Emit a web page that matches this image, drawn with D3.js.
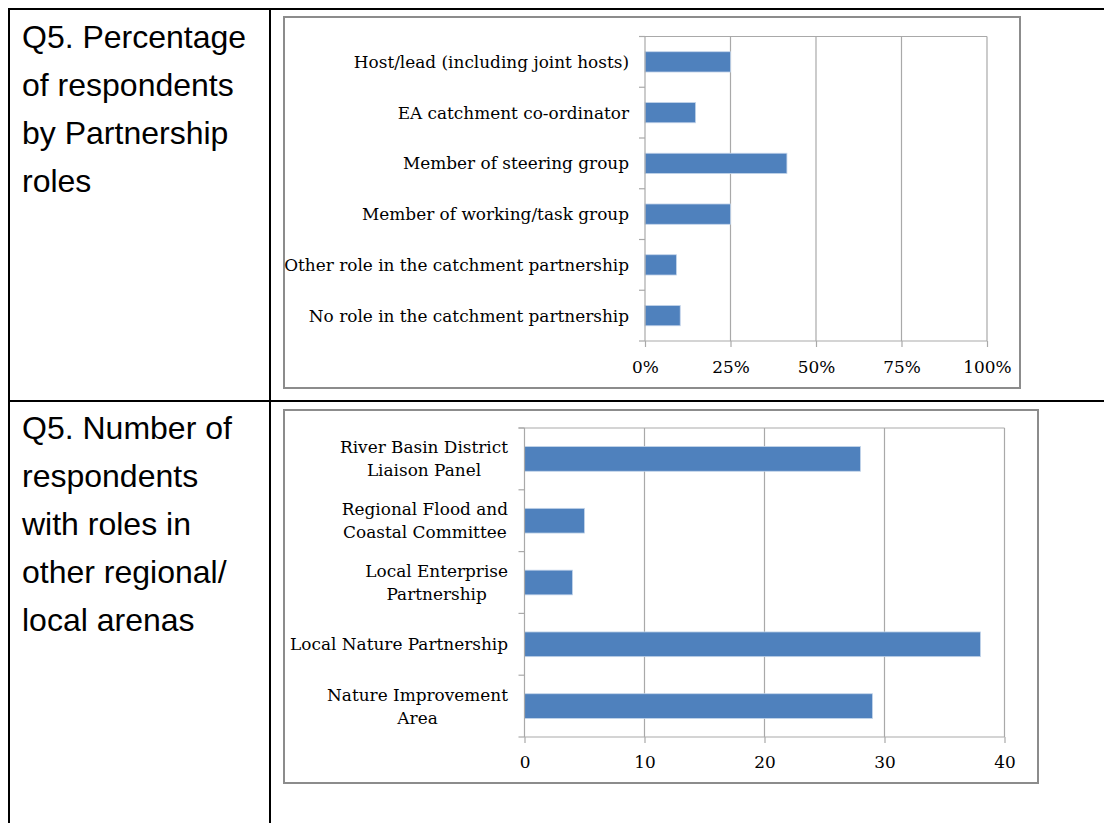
<!DOCTYPE html>
<html><head><meta charset="utf-8">
<script src="https://cdn.jsdelivr.net/npm/d3@7"></script>
<style>html,body{margin:0;padding:0;background:#fff;}svg{display:block;}</style>
</head><body>
<svg id="c" width="1104" height="823"></svg>
<script>
// ---- data ----
const roleCategories = ["Host/lead (including joint hosts)", "EA catchment co-ordinator", "Member of steering group", "Member of working/task group", "Other role in the catchment partnership", "No role in the catchment partnership"];
const roleValues = [25, 14.8, 41.5, 25, 9.2, 10.3];
const roleTicks = [0, 25, 50, 75, 100];
const roleTickLabels = ["0%", "25%", "50%", "75%", "100%"];

const arenaCategories = [["River Basin District", "Liaison Panel"], ["Regional Flood and", "Coastal Committee"], ["Local Enterprise", "Partnership"], ["Local Nature Partnership"], ["Nature Improvement", "Area"]];
const arenaValues = [28, 5, 4, 38, 29];
const arenaTicks = [0, 10, 20, 30, 40];
const arenaTickLabels = ["0", "10", "20", "30", "40"];

const heading1 = ["Q5. Percentage", "of respondents", "by Partnership", "roles"];
const heading2 = ["Q5. Number of", "respondents", "with roles in", "other regional/", "local arenas"];

// ---- drawing ----
const svg = d3.select("#c");
const serif = "'DejaVu Serif', 'Liberation Serif', serif";
const sans = "'Liberation Sans', Arial, sans-serif";
const gridCol = "#a9a9a9";
const barCol = "#4f81bd";

// table lines
const T = svg.append("g").attr("stroke", "#000").attr("stroke-width", 2);
T.append("line").attr("x1", 9).attr("x2", 1104).attr("y1", 9).attr("y2", 9);
T.append("line").attr("x1", 9).attr("x2", 1104).attr("y1", 401).attr("y2", 401);
T.append("line").attr("x1", 9).attr("x2", 9).attr("y1", 8).attr("y2", 823);
T.append("line").attr("x1", 270).attr("x2", 270).attr("y1", 8).attr("y2", 823);

function heading(lines, y0) {
  const g = svg.append("g").attr("font-family", sans).attr("font-size", 32).attr("fill", "#000");
  g.selectAll("text").data(lines).join("text")
    .attr("x", 22).attr("y", (d, i) => y0 + i * 48).text(d => d);
}
heading(heading1, 48);
heading(heading2, 439);

function chart(opts) {
  const g = svg.append("g");
  g.append("rect").attr("x", opts.frame[0]).attr("y", opts.frame[1])
    .attr("width", opts.frame[2] - opts.frame[0]).attr("height", opts.frame[3] - opts.frame[1])
    .attr("fill", "#fff").attr("stroke", "#8c8c8c").attr("stroke-width", 2);
  const x = d3.scaleLinear().domain(opts.domain).range([opts.x0, opts.x1]);
  const y = d3.scaleBand().domain(d3.range(opts.cats.length)).range([opts.y0, opts.y1])
    .paddingInner(0.6).paddingOuter(0.3);
  const step = y.step();
  g.selectAll("line.grid").data(opts.ticks.slice(1)).join("line").attr("class", "grid")
    .attr("x1", d => x(d)).attr("x2", d => x(d)).attr("y1", opts.y0).attr("y2", opts.y1)
    .attr("stroke", gridCol).attr("stroke-width", 1.2);
  g.append("line").attr("x1", opts.x0 - 6).attr("x2", x(opts.domain[1])).attr("y1", opts.y0).attr("y2", opts.y0)
    .attr("stroke", gridCol).attr("stroke-width", 1.2);
  g.selectAll("rect.bar").data(opts.vals).join("rect").attr("class", "bar")
    .attr("x", x(0)).attr("y", (d, i) => y(i)).attr("width", d => x(d) - x(0)).attr("height", y.bandwidth())
    .attr("fill", barCol).attr("stroke", "#c4d5ea").attr("stroke-width", 0.8);
  g.append("line").attr("x1", x(0)).attr("x2", x(0)).attr("y1", opts.y0).attr("y2", opts.y1)
    .attr("stroke", gridCol).attr("stroke-width", 1.2);
  g.selectAll("line.ctick").data(d3.range(opts.cats.length + 1)).join("line").attr("class", "ctick")
    .attr("x1", x(0) - 6).attr("x2", x(0)).attr("y1", i => opts.y0 + i * step).attr("y2", i => opts.y0 + i * step)
    .attr("stroke", gridCol).attr("stroke-width", 1.2);
  const axis = d3.axisBottom(x).tickValues(opts.ticks).tickSize(6)
    .tickFormat((d, i) => opts.tickLabels[i]);
  const ag = g.append("g").attr("transform", `translate(0,${opts.y1})`).call(axis);
  ag.select(".domain").attr("stroke", gridCol).attr("stroke-width", 1.2)
    .attr("d", `M${x(0)},0H${x(opts.domain[1])}`);
  ag.selectAll(".tick line").attr("stroke", gridCol).attr("stroke-width", 1.2);
  ag.selectAll(".tick text").attr("font-family", serif).attr("font-size", opts.fs).attr("fill", "#000")
    .attr("y", opts.tickY).attr("dy", "0.32em");
  // category labels: block right-aligned, lines centred within the block
  const lg = g.append("g").attr("font-family", serif).attr("font-size", opts.fs).attr("fill", "#000");
  opts.cats.forEach((c, i) => {
    const lines = Array.isArray(c) ? c : [c];
    const cy = y(i) + y.bandwidth() / 2;
    const t = lg.append("text");
    const spans = lines.map((ln, j) => t.append("tspan")
        .attr("y", cy + (j - (lines.length - 1) / 2) * opts.lh).attr("dy", "0.35em").text(ln));
    const w = d3.max(spans, s => s.node().getComputedTextLength());
    spans.forEach(s => s.attr("x", opts.labelX - w / 2).attr("text-anchor", "middle"));
  });
}

chart({frame: [284, 17, 1020, 388], domain: [0, 100], x0: 645, x1: 987, y0: 36.5, y1: 341,
  cats: roleCategories, vals: roleValues, ticks: roleTicks, tickLabels: roleTickLabels,
  fs: 16.9, tickY: 27, labelX: 629, lh: 23});
chart({frame: [284, 410, 1038, 783], domain: [0, 40], x0: 524.5, x1: 1004.5, y0: 428, y1: 737,
  cats: arenaCategories, vals: arenaValues, ticks: arenaTicks, tickLabels: arenaTickLabels,
  fs: 16.9, tickY: 26, labelX: 508, lh: 23});
</script>
</body></html>
